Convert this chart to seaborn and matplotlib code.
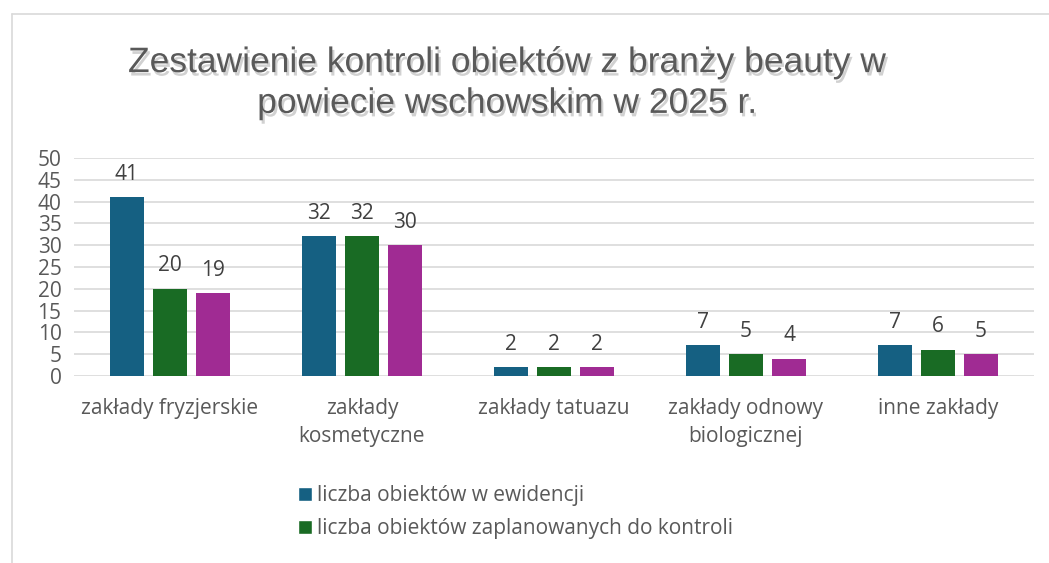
import matplotlib
matplotlib.use("Agg")
import matplotlib.pyplot as plt
import matplotlib.patheffects as pe
from matplotlib.lines import Line2D
from matplotlib.patches import Patch
import seaborn as sns
import pandas as pd

categories = ["zakłady fryzjerskie", "zakłady\nkosmetyczne", "zakłady tatuazu",
              "zakłady odnowy\nbiologicznej", "inne zakłady"]
series_names = ["liczba obiektów w ewidencji",
                "liczba obiektów zaplanowanych do kontroli",
                "liczba obiektów skontrolowanych"]
ewidencja = [41, 32, 2, 7, 7]
zaplanowane = [20, 32, 2, 5, 6]
skontrolowane = [19, 30, 2, 4, 5]
colors = ["#156082", "#196B24", "#A02B93"]

rows = []
for name, vals in zip(series_names, [ewidencja, zaplanowane, skontrolowane]):
    for c, v in zip(categories, vals):
        rows.append({"kategoria": c, "seria": name, "wartosc": v})
df = pd.DataFrame(rows)

sns.set_theme(style="white")
plt.rcParams["font.family"] = ["Open Sans", "DejaVu Sans"]
text_color = "#595959"

fig = plt.figure(figsize=(10.49, 5.63), dpi=100)
W, H = 1049, 563
ax = fig.add_axes([74 / W, 1 - 376 / H, (1034 - 74) / W, (376 - 158) / H])

sns.barplot(data=df, x="kategoria", y="wartosc", hue="seria", order=categories,
            hue_order=series_names, palette=colors, width=0.672, gap=0.21,
            ax=ax, legend=False, saturation=1, edgecolor="none")

ax.set_ylim(0, 50)
ax.set_xlim(-0.5, 4.5)
ax.set_yticks(range(0, 51, 5))
ax.yaxis.grid(True, color="#d9d9d9", linewidth=1.2)
ax.set_axisbelow(True)
for s in ax.spines.values():
    s.set_visible(False)
ax.set_xlabel("")
ax.set_ylabel("")
ax.tick_params(axis="y", length=0, pad=9, labelsize=15, labelcolor=text_color)
ax.tick_params(axis="x", length=0, pad=16, labelsize=15, labelcolor=text_color)
for lbl in ax.get_xticklabels():
    lbl.set_linespacing(1.45)

for cont in ax.containers:
    ax.bar_label(cont, padding=9, fontsize=15, color="#404040")

title = fig.text(507 / W, 1 - 83 / H,
                 "Zestawienie kontroli obiektów z branży beauty w\npowiecie wschowskim w 2025 r.",
                 ha="center", va="center", fontsize=25.5, color=text_color,
                 family=["Liberation Sans", "DejaVu Sans"], linespacing=1.3)
title.set_path_effects([pe.SimplePatchShadow(offset=(1.5, -2.5), alpha=0.22, shadow_rgbFace="#303030"),
                        pe.Normal()])

handles = [Patch(facecolor=colors[0]), Patch(facecolor=colors[1])]
fig.legend(handles, series_names[:2], loc="upper left",
           bbox_to_anchor=(288 / W, 1 - 475 / H), frameon=False, fontsize=15,
           labelcolor=text_color, handlelength=0.65, handleheight=0.65,
           handletextpad=0.25, labelspacing=0.55, borderpad=0)

fig.add_artist(Line2D([12 / W, 1], [1 - 14 / H, 1 - 14 / H], color="#d9d9d9", lw=1.2))
fig.add_artist(Line2D([12 / W, 12 / W], [0, 1 - 14 / H], color="#d9d9d9", lw=1.2))

fig.savefig("out.png", dpi=100, facecolor="white")
